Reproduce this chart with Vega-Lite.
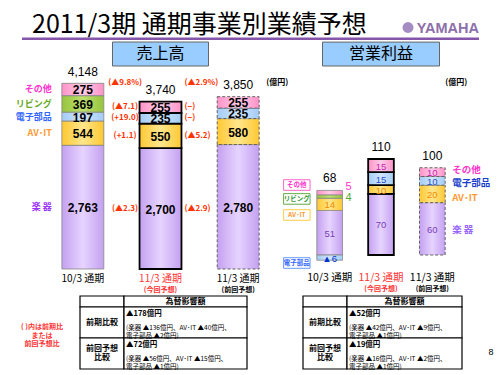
{
"$schema":"https://vega.github.io/schema/vega-lite/v6.json",
"width":500,"height":375,
"autosize":{"type":"none"},
"padding":0,
"background":"white",
"config":{"view":{"stroke":null},"font":"Noto Sans CJK JP"},
"datasets":{
 "sales":[
  {"cat":"10/3 通期","seg":"楽器","value":2763},
  {"cat":"10/3 通期","seg":"AV･IT","value":544},
  {"cat":"10/3 通期","seg":"電子部品","value":197},
  {"cat":"10/3 通期","seg":"リビング","value":369},
  {"cat":"10/3 通期","seg":"その他","value":275},
  {"cat":"11/3 通期(今回予想)","seg":"楽器","value":2700,"yoy":"(▲2.3)","vsPrev":"(▲2.9)"},
  {"cat":"11/3 通期(今回予想)","seg":"AV･IT","value":550,"yoy":"(+1.1)","vsPrev":"(▲5.2)"},
  {"cat":"11/3 通期(今回予想)","seg":"電子部品","value":235,"yoy":"(+19.0)","vsPrev":"(−)"},
  {"cat":"11/3 通期(今回予想)","seg":"その他","value":255,"yoy":"(▲7.1)","vsPrev":"(−)"},
  {"cat":"11/3 通期(前回予想)","seg":"楽器","value":2780},
  {"cat":"11/3 通期(前回予想)","seg":"AV･IT","value":580},
  {"cat":"11/3 通期(前回予想)","seg":"電子部品","value":235},
  {"cat":"11/3 通期(前回予想)","seg":"その他","value":255}
 ],
 "salesTotals":[
  {"cat":"10/3 通期","total":4148},
  {"cat":"11/3 通期(今回予想)","total":3740,"yoy":"(▲9.8%)","vsPrev":"(▲2.9%)"},
  {"cat":"11/3 通期(前回予想)","total":3850}
 ],
 "profit":[
  {"cat":"10/3 通期","seg":"楽器","value":51},
  {"cat":"10/3 通期","seg":"AV･IT","value":14},
  {"cat":"10/3 通期","seg":"リビング","value":4},
  {"cat":"10/3 通期","seg":"その他","value":5},
  {"cat":"10/3 通期","seg":"電子部品","value":-6},
  {"cat":"11/3 通期(今回予想)","seg":"楽器","value":70},
  {"cat":"11/3 通期(今回予想)","seg":"AV･IT","value":10},
  {"cat":"11/3 通期(今回予想)","seg":"電子部品","value":15},
  {"cat":"11/3 通期(今回予想)","seg":"その他","value":15},
  {"cat":"11/3 通期(前回予想)","seg":"楽器","value":60},
  {"cat":"11/3 通期(前回予想)","seg":"AV･IT","value":20},
  {"cat":"11/3 通期(前回予想)","seg":"電子部品","value":10},
  {"cat":"11/3 通期(前回予想)","seg":"その他","value":10}
 ],
 "cats":[
  {"cat":"10/3 通期","label":"10/3 通期","sub":""},
  {"cat":"11/3 通期(今回予想)","label":"11/3 通期","sub":"(今回予想)"},
  {"cat":"11/3 通期(前回予想)","label":"11/3 通期","sub":"(前回予想)"}
 ],
 "fxHead":[
  {"table":"sales","title":"為替影響額"},
  {"table":"profit","title":"為替影響額"}
 ],
 "fx":[
  {"table":"sales","row":"前期比較","label":"前期比較","head":"▲178億円","detail":"(楽器 ▲136億円、AV･IT ▲40億円、\n電子部品 ▲2億円)"},
  {"table":"sales","row":"前回予想比較","label":"前回予想\n比較","head":"▲72億円","detail":"(楽器 ▲56億円、AV･IT ▲15億円、\n電子部品 ▲1億円)"},
  {"table":"profit","row":"前期比較","label":"前期比較","head":"▲52億円","detail":"(楽器 ▲42億円、AV･IT ▲9億円、\n電子部品 ▲1億円)"},
  {"table":"profit","row":"前回予想比較","label":"前回予想\n比較","head":"▲19億円","detail":"(楽器 ▲16億円、AV･IT ▲2億円、\n電子部品 ▲1億円)"}
 ]
},
"resolve":{"scale":{"x":"independent","y":"independent"}},
"layer":[
 {
  "data":{"values":[{"k":"header","title":"2011/3期 通期事業別業績予想","logo":"YAMAHA"}]},
  "layer":[
   {"mark":{"type":"rect","color":"#8455A8"},
    "encoding":{"x":{"field":"k","type":"nominal","scale":{"range":[22,479],"paddingInner":0,"paddingOuter":0},"axis":null},
                "y":{"field":"k","type":"nominal","scale":{"range":[37.5,40],"paddingInner":0,"paddingOuter":0},"axis":null}}},
   {"mark":{"type":"text","align":"left","baseline":"alphabetic","dx":10,"dy":-4.5,"fontSize":25,"font":"Noto Sans CJK JP","color":"#000000"},
    "encoding":{"x":{"field":"k","type":"nominal","bandPosition":0,"axis":null},"y":{"field":"k","type":"nominal","bandPosition":0,"axis":null},"text":{"field":"title"}}},
   {"mark":{"type":"text","align":"right","baseline":"alphabetic","dy":-4.5,"fontSize":14.5,"fontWeight":"bold","font":"Liberation Sans","color":"#8D6FAA"},
    "encoding":{"x":{"field":"k","type":"nominal","bandPosition":1,"axis":null},"y":{"field":"k","type":"nominal","bandPosition":0,"axis":null},"text":{"field":"logo"}}},
   {"mark":{"type":"point","shape":"circle","filled":true,"size":120,"color":"#A58CC2","opacity":1,"xOffset":-71,"yOffset":-10},
    "encoding":{"x":{"field":"k","type":"nominal","bandPosition":1,"axis":null},"y":{"field":"k","type":"nominal","bandPosition":0,"axis":null}}}
  ]
 },
 {
  "layer":[
   {"data":{"values":[{"cat":"11/3 通期(今回予想)","name":"売上高"}]},
    "mark":{"type":"bar","width":96,"fill":"#99CCFF","stroke":"#666666","strokeWidth":1},
    "encoding":{"x":{"field":"cat","type":"nominal","axis":null},"y":{"datum":4535,"axis":null},"y2":{"datum":5071}}},
   {"data":{"values":[{"cat":"11/3 通期(今回予想)","name":"売上高"}]},
    "mark":{"type":"text","fontSize":16,"font":"Noto Sans CJK JP","baseline":"middle","color":"#000000"},
    "encoding":{"x":{"field":"cat","type":"nominal","axis":null},"y":{"datum":4803,"axis":null},"text":{"field":"name"}}},
   {"data":{"name":"sales"},
    "mark":{"type":"bar"},
    "encoding":{
     "x":{"field":"cat","type":"nominal","scale":{"domain":["10/3 通期","11/3 通期(今回予想)","11/3 通期(前回予想)"],"range":[44,277],"paddingInner":0.46,"paddingOuter":0.23},
          "axis":{"orient":"bottom","offset":-106,"title":null,"labels":false,"grid":false,"domainColor":"#808080","tickColor":"#808080","tickBand":"extent","tickSize":-3}},
     "y":{"field":"value","type":"quantitative","stack":"zero","scale":{"domain":[0,5116],"range":[269,40],"nice":false,"zero":false},"axis":null},
     "fill":{"condition":[
       {"test":"datum.seg === '楽器'","value":{"gradient":"linear","x1":0,"y1":0,"x2":1,"y2":0,"stops":[{"offset":0,"color":"#C4A0F0"},{"offset":0.5,"color":"#E6D4FF"},{"offset":1,"color":"#C4A0F0"}]}},
       {"test":"datum.seg === 'AV･IT'","value":{"gradient":"linear","x1":0,"y1":0,"x2":1,"y2":0,"stops":[{"offset":0,"color":"#FFC832"},{"offset":0.5,"color":"#FFE68C"},{"offset":1,"color":"#FFC832"}]}},
       {"test":"datum.seg === '電子部品'","value":{"gradient":"linear","x1":0,"y1":0,"x2":1,"y2":0,"stops":[{"offset":0,"color":"#A4CCF4"},{"offset":0.5,"color":"#D0E6FF"},{"offset":1,"color":"#A4CCF4"}]}},
       {"test":"datum.seg === 'リビング'","value":{"gradient":"linear","x1":0,"y1":0,"x2":1,"y2":0,"stops":[{"offset":0,"color":"#96C43C"},{"offset":0.5,"color":"#BEE070"},{"offset":1,"color":"#96C43C"}]}}
      ],"value":{"gradient":"linear","x1":0,"y1":0,"x2":1,"y2":0,"stops":[{"offset":0,"color":"#FF92C8"},{"offset":0.5,"color":"#FFCCE6"},{"offset":1,"color":"#FF92C8"}]}},
     "stroke":{"condition":[{"test":"datum.cat === '11/3 通期(今回予想)'","value":"#000000"},{"test":"datum.cat === '11/3 通期(前回予想)'","value":"#555555"}],"value":"#888888"},
     "strokeWidth":{"condition":{"test":"datum.cat === '11/3 通期(今回予想)'","value":1.8},"value":0.9},
     "strokeDash":{"condition":{"test":"datum.cat === '11/3 通期(前回予想)'","value":[3,2]},"value":[1,0]}
    }},
   {"data":{"name":"sales"},
    "mark":{"type":"text","font":"Liberation Sans","fontSize":12,"fontWeight":"bold","baseline":"middle","dy":1,"color":"#000000","text":{"expr":"format(datum.value, ',')"}},
    "encoding":{"x":{"field":"cat","type":"nominal","axis":null},"y":{"field":"value","type":"quantitative","stack":"zero","bandPosition":0.5,"axis":null}}},
   {"data":{"name":"sales"},
    "mark":{"type":"text","font":"Noto Sans CJK JP","fontSize":9,"fontWeight":"bold","align":"right","baseline":"middle","dx":-10,"text":{"expr":"datum.cat === '10/3 通期' ? (datum.seg === '楽器' ? '楽 器' : datum.seg) : ''"}},
    "encoding":{"x":{"field":"cat","type":"nominal","bandPosition":0,"axis":null},"y":{"field":"value","type":"quantitative","stack":"zero","bandPosition":0.5,"axis":null},
     "color":{"condition":[{"test":"datum.seg === '楽器'","value":"#9933FF"},{"test":"datum.seg === 'AV･IT'","value":"#FF9933"},{"test":"datum.seg === '電子部品'","value":"#3366FF"},{"test":"datum.seg === 'リビング'","value":"#66AA22"}],"value":"#FF33CC"}}},
   {"data":{"name":"sales"},
    "mark":{"type":"text","font":"Noto Sans CJK JP","fontSize":8,"fontWeight":"bold","align":"center","baseline":"middle","dx":-14.5,"color":"#FF3300","text":{"expr":"datum.yoy ? datum.yoy : ''"}},
    "encoding":{"x":{"field":"cat","type":"nominal","bandPosition":0,"axis":null},"y":{"field":"value","type":"quantitative","stack":"zero","bandPosition":0.5,"axis":null}}},
   {"data":{"name":"sales"},
    "mark":{"type":"text","font":"Noto Sans CJK JP","fontSize":8,"fontWeight":"bold","align":"left","baseline":"middle","dx":3,"color":"#FF3300","text":{"expr":"datum.vsPrev ? datum.vsPrev : ''"}},
    "encoding":{"x":{"field":"cat","type":"nominal","bandPosition":1,"axis":null},"y":{"field":"value","type":"quantitative","stack":"zero","bandPosition":0.5,"axis":null}}},
   {"data":{"name":"salesTotals"},
    "mark":{"type":"text","font":"Liberation Sans","fontSize":12,"baseline":"middle","dy":-11.5,"color":"#000000"},
    "encoding":{"x":{"field":"cat","type":"nominal","axis":null},"y":{"field":"total","type":"quantitative","axis":null},"text":{"field":"total","type":"quantitative","format":","}}},
   {"data":{"name":"salesTotals"},
    "mark":{"type":"text","font":"Noto Sans CJK JP","fontSize":8,"fontWeight":"bold","align":"center","baseline":"middle","dx":-14.5,"dy":-19,"color":"#FF3300","text":{"expr":"datum.yoy ? datum.yoy : ''"}},
    "encoding":{"x":{"field":"cat","type":"nominal","bandPosition":0,"axis":null},"y":{"field":"total","type":"quantitative","axis":null}}},
   {"data":{"name":"salesTotals"},
    "mark":{"type":"text","font":"Noto Sans CJK JP","fontSize":8,"fontWeight":"bold","align":"left","baseline":"middle","dx":3,"dy":-19,"color":"#FF3300","text":{"expr":"datum.vsPrev ? datum.vsPrev : ''"}},
    "encoding":{"x":{"field":"cat","type":"nominal","bandPosition":1,"axis":null},"y":{"field":"total","type":"quantitative","axis":null}}},
   {"data":{"values":[{"cat":"11/3 通期(前回予想)","unit":"(億円)"}]},
    "mark":{"type":"text","font":"Noto Sans CJK JP","fontSize":8,"fontWeight":"bold","align":"left","baseline":"middle","dx":7,"color":"#000000"},
    "encoding":{"x":{"field":"cat","type":"nominal","bandPosition":1,"axis":null},"y":{"datum":4150,"axis":null},"text":{"field":"unit"}}},
   {"data":{"name":"cats"},
    "mark":{"type":"text","font":"Noto Sans CJK JP","fontSize":10,"baseline":"middle","dy":10},
    "encoding":{"x":{"field":"cat","type":"nominal","axis":null},"y":{"datum":0,"axis":null},"text":{"field":"label"},
     "color":{"condition":{"test":"datum.cat === '11/3 通期(今回予想)'","value":"#FF3333"},"value":"#000000"}}},
   {"data":{"name":"cats"},
    "mark":{"type":"text","font":"Noto Sans CJK JP","fontSize":7,"fontWeight":"bold","baseline":"middle","dy":20.5},
    "encoding":{"x":{"field":"cat","type":"nominal","axis":null},"y":{"datum":0,"axis":null},"text":{"field":"sub"},
     "color":{"condition":{"test":"datum.cat === '11/3 通期(今回予想)'","value":"#FF3333"},"value":"#000000"}}}
  ]
 },
 {
  "layer":[
   {"data":{"values":[{"cat":"11/3 通期(今回予想)","name":"営業利益"}]},
    "mark":{"type":"bar","width":117,"fill":"#99CCFF","stroke":"#666666","strokeWidth":1},
    "encoding":{"x":{"field":"cat","type":"nominal","axis":null},"y":{"datum":216.6,"axis":null},"y2":{"datum":244}}},
   {"data":{"values":[{"cat":"11/3 通期(今回予想)","name":"営業利益"}]},
    "mark":{"type":"text","fontSize":16,"font":"Noto Sans CJK JP","baseline":"middle","color":"#000000"},
    "encoding":{"x":{"field":"cat","type":"nominal","axis":null},"y":{"datum":230.3,"axis":null},"text":{"field":"name"}}},
   {"data":{"name":"profit"},
    "mark":{"type":"bar"},
    "encoding":{
     "x":{"field":"cat","type":"nominal","scale":{"domain":["10/3 通期","11/3 通期(今回予想)","11/3 通期(前回予想)"],"range":[304,458],"paddingInner":0.5,"paddingOuter":0.25},
          "axis":{"orient":"bottom","offset":-120,"title":null,"labels":false,"grid":false,"domainColor":"#808080","tickColor":"#808080","tickBand":"extent","tickSize":-3}},
     "y":{"field":"value","type":"quantitative","stack":"zero","scale":{"domain":[0,246.4],"range":[255,40],"nice":false,"zero":false},"axis":null},
     "fill":{"condition":[
       {"test":"datum.seg === '楽器'","value":{"gradient":"linear","x1":0,"y1":0,"x2":1,"y2":0,"stops":[{"offset":0,"color":"#C4A0F0"},{"offset":0.5,"color":"#E6D4FF"},{"offset":1,"color":"#C4A0F0"}]}},
       {"test":"datum.seg === 'AV･IT'","value":{"gradient":"linear","x1":0,"y1":0,"x2":1,"y2":0,"stops":[{"offset":0,"color":"#FFC832"},{"offset":0.5,"color":"#FFE68C"},{"offset":1,"color":"#FFC832"}]}},
       {"test":"datum.seg === '電子部品'","value":{"gradient":"linear","x1":0,"y1":0,"x2":1,"y2":0,"stops":[{"offset":0,"color":"#A4CCF4"},{"offset":0.5,"color":"#D0E6FF"},{"offset":1,"color":"#A4CCF4"}]}},
       {"test":"datum.seg === 'リビング'","value":{"gradient":"linear","x1":0,"y1":0,"x2":1,"y2":0,"stops":[{"offset":0,"color":"#96C43C"},{"offset":0.5,"color":"#BEE070"},{"offset":1,"color":"#96C43C"}]}}
      ],"value":{"gradient":"linear","x1":0,"y1":0,"x2":1,"y2":0,"stops":[{"offset":0,"color":"#FF92C8"},{"offset":0.5,"color":"#FFCCE6"},{"offset":1,"color":"#FF92C8"}]}},
     "stroke":{"condition":[{"test":"datum.cat === '11/3 通期(今回予想)'","value":"#000000"},{"test":"datum.cat === '11/3 通期(前回予想)'","value":"#555555"}],"value":"#888888"},
     "strokeWidth":{"condition":{"test":"datum.cat === '11/3 通期(今回予想)'","value":1.8},"value":0.9},
     "strokeDash":{"condition":{"test":"datum.cat === '11/3 通期(前回予想)'","value":[3,2]},"value":[1,0]}
    }},
   {"data":{"name":"profit"},
    "mark":{"type":"text","font":"Liberation Sans","fontSize":9.5,"baseline":"middle","dy":1,"text":{"expr":"(datum.cat === '10/3 通期' && (datum.seg === 'その他' || datum.seg === 'リビング')) ? '' : (datum.value < 0 ? '▲' + abs(datum.value) : '' + datum.value)"}},
    "encoding":{"x":{"field":"cat","type":"nominal","axis":null},"y":{"field":"value","type":"quantitative","stack":"zero","bandPosition":0.5,"axis":null},
     "color":{"condition":[{"test":"datum.value < 0","value":"#0033CC"},{"test":"datum.seg === '楽器'","value":"#7A3DB8"},{"test":"datum.seg === 'AV･IT'","value":"#F08C00"},{"test":"datum.seg === '電子部品'","value":"#2850C8"}],"value":"#D020B0"}}},
   {"data":{"name":"profit"},
    "mark":{"type":"text","font":"Liberation Sans","fontSize":11,"align":"left","baseline":"middle","dx":3,"dy":{"expr":"datum.seg === 'その他' ? -6 : 1"},"text":{"expr":"(datum.cat === '10/3 通期' && (datum.seg === 'その他' || datum.seg === 'リビング')) ? '' + datum.value : ''"}},
    "encoding":{"x":{"field":"cat","type":"nominal","bandPosition":1,"axis":null},"y":{"field":"value","type":"quantitative","stack":"zero","bandPosition":0.5,"axis":null},
     "color":{"condition":{"test":"datum.seg === 'リビング'","value":"#55AA33"},"value":"#FF33CC"}}},
   {"data":{"name":"profit"},
    "mark":{"type":"point","shape":"M-1,-0.4L1,-0.4L1,0.4L-1,0.4Z","size":700,"filled":false,"fill":"#FFFFFF","fillOpacity":1,"strokeWidth":1,"xOffset":-20,"yOffset":{"expr":"datum.seg === 'その他' ? -7.6 : datum.seg === 'リビング' ? 2.4 : datum.seg === 'AV･IT' ? 10.6 : 5.4"}},
    "encoding":{"x":{"field":"cat","type":"nominal","bandPosition":0,"axis":null},"y":{"field":"value","type":"quantitative","stack":"zero","bandPosition":0.5,"axis":null},
     "stroke":{"condition":[{"test":"datum.seg === 'AV･IT'","value":"#FFCC44"},{"test":"datum.seg === '電子部品'","value":"#6699FF"},{"test":"datum.seg === 'リビング'","value":"#66AA44"}],"value":"#FF66CC"},
     "opacity":{"condition":{"test":"datum.cat === '10/3 通期' && datum.seg !== '楽器'","value":1},"value":0}}},
   {"data":{"name":"profit"},
    "mark":{"type":"text","font":"Noto Sans CJK JP","fontSize":6.5,"fontWeight":"bold","baseline":"middle","xOffset":-20,"yOffset":{"expr":"datum.seg === 'その他' ? -7.6 : datum.seg === 'リビング' ? 2.4 : datum.seg === 'AV･IT' ? 10.6 : 5.4"},"text":{"expr":"datum.cat === '10/3 通期' && datum.seg !== '楽器' ? datum.seg : ''"}},
    "encoding":{"x":{"field":"cat","type":"nominal","bandPosition":0,"axis":null},"y":{"field":"value","type":"quantitative","stack":"zero","bandPosition":0.5,"axis":null},
     "color":{"condition":[{"test":"datum.seg === 'AV･IT'","value":"#FF9933"},{"test":"datum.seg === '電子部品'","value":"#3366FF"},{"test":"datum.seg === 'リビング'","value":"#339933"}],"value":"#FF33CC"}}},
   {"data":{"name":"profit"},
    "mark":{"type":"text","font":"Noto Sans CJK JP","fontSize":9.5,"fontWeight":"bold","align":"left","baseline":"middle","dx":7,"dy":{"expr":"datum.seg === 'その他' ? -2 : datum.seg === '電子部品' ? 2.5 : datum.seg === 'AV･IT' ? 4 : 1"},"text":{"expr":"datum.cat === '11/3 通期(前回予想)' ? (datum.seg === '楽器' ? '楽 器' : datum.seg) : ''"}},
    "encoding":{"x":{"field":"cat","type":"nominal","bandPosition":1,"axis":null},"y":{"field":"value","type":"quantitative","stack":"zero","bandPosition":0.5,"axis":null},
     "color":{"condition":[{"test":"datum.seg === '楽器'","value":"#9966FF"},{"test":"datum.seg === 'AV･IT'","value":"#FF9933"},{"test":"datum.seg === '電子部品'","value":"#1A3FCC"}],"value":"#FF33CC"}}},
   {"data":{"name":"profit"},
    "transform":[{"joinaggregate":[{"op":"sum","field":"value","as":"total"}],"groupby":["cat"]},{"filter":"datum.value > 0"},{"aggregate":[{"op":"sum","field":"value","as":"top"}],"groupby":["cat","total"]}],
    "mark":{"type":"text","font":"Liberation Sans","fontSize":12,"baseline":"middle","dy":-12,"color":"#000000"},
    "encoding":{"x":{"field":"cat","type":"nominal","axis":null},"y":{"field":"top","type":"quantitative","axis":null},"text":{"field":"total","type":"quantitative"}}},
   {"data":{"values":[{"cat":"11/3 通期(前回予想)","unit":"(億円)"}]},
    "mark":{"type":"text","font":"Noto Sans CJK JP","fontSize":8,"fontWeight":"bold","align":"left","baseline":"middle","dx":0,"color":"#000000"},
    "encoding":{"x":{"field":"cat","type":"nominal","bandPosition":1,"axis":null},"y":{"datum":197,"axis":null},"text":{"field":"unit"}}},
   {"data":{"name":"cats"},
    "mark":{"type":"text","font":"Noto Sans CJK JP","fontSize":10.5,"baseline":"middle","dy":22.5},
    "encoding":{"x":{"field":"cat","type":"nominal","axis":null},"y":{"datum":0,"axis":null},"text":{"field":"label"},
     "color":{"condition":{"test":"datum.cat === '11/3 通期(今回予想)'","value":"#FF3333"},"value":"#000000"}}},
   {"data":{"name":"cats"},
    "mark":{"type":"text","font":"Noto Sans CJK JP","fontSize":7,"fontWeight":"bold","baseline":"middle","dy":33.5},
    "encoding":{"x":{"field":"cat","type":"nominal","axis":null},"y":{"datum":0,"axis":null},"text":{"field":"sub"},
     "color":{"condition":{"test":"datum.cat === '11/3 通期(今回予想)'","value":"#FF3333"},"value":"#000000"}}}
  ]
 },
 {"data":{"values":[{"k":"note","t":"( )内は前期比\nまたは\n前回予想比"}]},
  "mark":{"type":"text","lineBreak":"\n","color":"#FF3333","fontSize":7,"fontWeight":"bold","font":"Noto Sans CJK JP","lineHeight":8.5,"baseline":"middle"},
  "encoding":{"x":{"field":"k","type":"nominal","scale":{"range":[0,84],"paddingInner":0,"paddingOuter":0},"axis":null},
              "y":{"field":"k","type":"nominal","scale":{"range":[320,334],"paddingInner":0,"paddingOuter":0},"axis":null},
              "text":{"field":"t"}}},
 {"data":{"values":[{"k":"page","t":"8"}]},
  "mark":{"type":"text","fontSize":9,"font":"Liberation Sans","baseline":"middle","color":"#000000"},
  "encoding":{"x":{"field":"k","type":"nominal","scale":{"range":[486,496],"paddingInner":0,"paddingOuter":0},"axis":null},
              "y":{"field":"k","type":"nominal","scale":{"range":[347,357],"paddingInner":0,"paddingOuter":0},"axis":null},
              "text":{"field":"t"}}},
 {"data":{"name":"fxHead"},"transform":[{"filter":"datum.table === 'sales'"}],
  "mark":{"type":"rect","fill":"#FFFFFF","stroke":"#000000","strokeWidth":1.2},
  "encoding":{"x":{"field":"table","type":"nominal","scale":{"range":[80,124],"paddingInner":0,"paddingOuter":0},"axis":null},
              "y":{"field":"table","type":"nominal","scale":{"range":[296,307],"paddingInner":0,"paddingOuter":0},"axis":null}}},
 {"data":{"name":"fxHead"},"transform":[{"filter":"datum.table === 'sales'"}],
  "encoding":{"x":{"field":"table","type":"nominal","scale":{"range":[124,247],"paddingInner":0,"paddingOuter":0},"axis":null},
              "y":{"field":"table","type":"nominal","scale":{"range":[296,307],"paddingInner":0,"paddingOuter":0},"axis":null}},
  "layer":[
   {"mark":{"type":"rect","fill":"#FFFFFF","stroke":"#000000","strokeWidth":1.2}},
   {"mark":{"type":"text","fontSize":8,"fontWeight":"bold","font":"Noto Sans CJK JP","baseline":"middle","color":"#000000"},"encoding":{"text":{"field":"title"}}}
  ]},
 {"data":{"name":"fx"},"transform":[{"filter":"datum.table === 'sales'"}],
  "encoding":{"x":{"field":"table","type":"nominal","scale":{"range":[80,124],"paddingInner":0,"paddingOuter":0},"axis":null},
              "y":{"field":"row","type":"nominal","scale":{"domain":["前期比較","前回予想比較"],"range":[307,369],"paddingInner":0,"paddingOuter":0},"axis":null}},
  "layer":[
   {"mark":{"type":"rect","fill":"#FFFFFF","stroke":"#000000","strokeWidth":1.2}},
   {"mark":{"type":"text","fontSize":8,"fontWeight":"bold","font":"Noto Sans CJK JP","baseline":"middle","lineBreak":"\n","lineHeight":9,"color":"#000000","dy":{"expr":"datum.row === '前回予想比較' ? -5 : 0"}},"encoding":{"text":{"field":"label"}}}
  ]},
 {"data":{"name":"fx"},"transform":[{"filter":"datum.table === 'sales'"}],
  "encoding":{"x":{"field":"table","type":"nominal","scale":{"range":[124,247],"paddingInner":0,"paddingOuter":0},"axis":null},
              "y":{"field":"row","type":"nominal","scale":{"domain":["前期比較","前回予想比較"],"range":[307,369],"paddingInner":0,"paddingOuter":0},"axis":null}},
  "layer":[
   {"mark":{"type":"rect","fill":"#FFFFFF","stroke":"#000000","strokeWidth":1.2}},
   {"mark":{"type":"text","align":"left","baseline":"middle","dx":2,"dy":6.5,"fontSize":7.5,"fontWeight":"bold","font":"Noto Sans CJK JP","color":"#000000"},
    "encoding":{"x":{"field":"table","type":"nominal","bandPosition":0},"y":{"field":"row","type":"nominal","bandPosition":0},"text":{"field":"head"}}},
   {"mark":{"type":"text","align":"left","baseline":"middle","dx":2,"dy":20.5,"fontSize":6.5,"font":"Noto Sans CJK JP","lineBreak":"\n","lineHeight":8,"color":"#000000"},
    "encoding":{"x":{"field":"table","type":"nominal","bandPosition":0},"y":{"field":"row","type":"nominal","bandPosition":0},"text":{"field":"detail"}}}
  ]},
 {"data":{"name":"fxHead"},"transform":[{"filter":"datum.table === 'profit'"}],
  "mark":{"type":"rect","fill":"#FFFFFF","stroke":"#000000","strokeWidth":1.2},
  "encoding":{"x":{"field":"table","type":"nominal","scale":{"range":[303,347],"paddingInner":0,"paddingOuter":0},"axis":null},
              "y":{"field":"table","type":"nominal","scale":{"range":[296,307],"paddingInner":0,"paddingOuter":0},"axis":null}}},
 {"data":{"name":"fxHead"},"transform":[{"filter":"datum.table === 'profit'"}],
  "encoding":{"x":{"field":"table","type":"nominal","scale":{"range":[347,462],"paddingInner":0,"paddingOuter":0},"axis":null},
              "y":{"field":"table","type":"nominal","scale":{"range":[296,307],"paddingInner":0,"paddingOuter":0},"axis":null}},
  "layer":[
   {"mark":{"type":"rect","fill":"#FFFFFF","stroke":"#000000","strokeWidth":1.2}},
   {"mark":{"type":"text","fontSize":8,"fontWeight":"bold","font":"Noto Sans CJK JP","baseline":"middle","color":"#000000"},"encoding":{"text":{"field":"title"}}}
  ]},
 {"data":{"name":"fx"},"transform":[{"filter":"datum.table === 'profit'"}],
  "encoding":{"x":{"field":"table","type":"nominal","scale":{"range":[303,347],"paddingInner":0,"paddingOuter":0},"axis":null},
              "y":{"field":"row","type":"nominal","scale":{"domain":["前期比較","前回予想比較"],"range":[307,369],"paddingInner":0,"paddingOuter":0},"axis":null}},
  "layer":[
   {"mark":{"type":"rect","fill":"#FFFFFF","stroke":"#000000","strokeWidth":1.2}},
   {"mark":{"type":"text","fontSize":8,"fontWeight":"bold","font":"Noto Sans CJK JP","baseline":"middle","lineBreak":"\n","lineHeight":9,"color":"#000000","dy":{"expr":"datum.row === '前回予想比較' ? -5 : 0"}},"encoding":{"text":{"field":"label"}}}
  ]},
 {"data":{"name":"fx"},"transform":[{"filter":"datum.table === 'profit'"}],
  "encoding":{"x":{"field":"table","type":"nominal","scale":{"range":[347,462],"paddingInner":0,"paddingOuter":0},"axis":null},
              "y":{"field":"row","type":"nominal","scale":{"domain":["前期比較","前回予想比較"],"range":[307,369],"paddingInner":0,"paddingOuter":0},"axis":null}},
  "layer":[
   {"mark":{"type":"rect","fill":"#FFFFFF","stroke":"#000000","strokeWidth":1.2}},
   {"mark":{"type":"text","align":"left","baseline":"middle","dx":2,"dy":6.5,"fontSize":7.5,"fontWeight":"bold","font":"Noto Sans CJK JP","color":"#000000"},
    "encoding":{"x":{"field":"table","type":"nominal","bandPosition":0},"y":{"field":"row","type":"nominal","bandPosition":0},"text":{"field":"head"}}},
   {"mark":{"type":"text","align":"left","baseline":"middle","dx":2,"dy":20.5,"fontSize":6.5,"font":"Noto Sans CJK JP","lineBreak":"\n","lineHeight":8,"color":"#000000"},
    "encoding":{"x":{"field":"table","type":"nominal","bandPosition":0},"y":{"field":"row","type":"nominal","bandPosition":0},"text":{"field":"detail"}}}
  ]}
]
}
